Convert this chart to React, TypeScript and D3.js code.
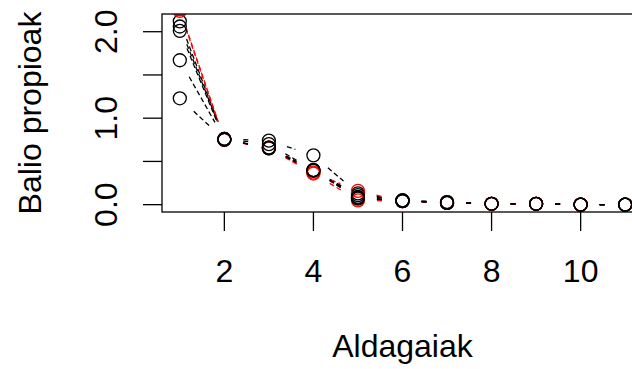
import * as d3 from "d3";

// eigenvalues per variable, one array per series (draw order kept as in R's matplot)
const variables = [1, 2, 3, 4, 5, 6, 7, 8, 9, 10, 11];
const blackA = [2.12, 0.76, 0.74, 0.57, 0.13, 0.05, 0.03, 0.01, 0.01, 0.0, 0.0];
const blackB = [2.06, 0.76, 0.7, 0.4, 0.11, 0.05, 0.02, 0.01, 0.01, 0.0, 0.0];
const redA = [2.26, 0.75, 0.66, 0.37, 0.16, 0.04, 0.03, 0.01, 0.01, 0.0, 0.0];
const redB = [2.24, 0.75, 0.65, 0.36, 0.05, 0.04, 0.02, 0.01, 0.01, 0.0, 0.0];
const blackC = [2.01, 0.75, 0.66, 0.4, 0.09, 0.04, 0.02, 0.01, 0.01, 0.0, 0.0];
const blackD = [1.67, 0.76, 0.65, 0.39, 0.08, 0.04, 0.03, 0.01, 0.01, 0.0, 0.0];
const blackE = [1.23, 0.75, 0.66, 0.4, 0.07, 0.05, 0.02, 0.01, 0.01, 0.0, 0.0];

const seriesList = [
  { values: blackA, color: "#000" },
  { values: blackB, color: "#000" },
  { values: redA, color: "#ff0000" },
  { values: redB, color: "#ff0000" },
  { values: blackC, color: "#000" },
  { values: blackD, color: "#000" },
  { values: blackE, color: "#000" },
];

const xTicks = [2, 4, 6, 8, 10];
const yTicks = [0, 0.5, 1, 1.5, 2];
const yLabelTicks = [0, 1, 2];
const yLim = [0, 2.12];

const W = 632;
const H = 369;
const left = 162;
const right = 643;
const top = 14;
const bottom = 212;
const font = "'Liberation Sans', Arial, sans-serif";

export default function App() {
  // R pads the axis range by 4%
  const xPad = (11 - 1) * 0.04;
  const yPad = (yLim[1] - yLim[0]) * 0.04;
  const x = d3.scaleLinear().domain([1 - xPad, 11 + xPad]).range([left, right]);
  const y = d3.scaleLinear().domain([yLim[0] - yPad, yLim[1] + yPad]).range([bottom, top]);
  const gap = 19; // type="b" leaves a gap around each point

  const segs = (vals: number[]) => {
    const out: string[] = [];
    for (let i = 1; i < vals.length; i++) {
      const x0 = x(variables[i - 1]), y0 = y(vals[i - 1]);
      const x1 = x(variables[i]), y1 = y(vals[i]);
      const len = Math.hypot(x1 - x0, y1 - y0);
      if (len <= 2 * gap) continue;
      const ux = (x1 - x0) / len, uy = (y1 - y0) / len;
      const p = d3.path();
      p.moveTo(x0 + ux * gap, y0 + uy * gap);
      p.lineTo(x1 - ux * gap, y1 - uy * gap);
      out.push(p.toString());
    }
    return out;
  };

  return (
    <svg
      width={W}
      height={H}
      style={{ position: "fixed", left: 0, top: 0, background: "#fff" }}
      fontFamily={font}
    >
      <defs>
        <clipPath id="plotClip">
          <rect x={left} y={top} width={right - left} height={bottom - top} />
        </clipPath>
      </defs>
      <g clipPath="url(#plotClip)">
        {seriesList.map((s, si) => (
          <g key={si}>
            {segs(s.values).map((d, i) => (
              <path key={i} d={d} stroke={s.color} strokeWidth={1.3} strokeDasharray="5,3" fill="none" />
            ))}
            {s.values.map((v, i) => (
              <circle
                key={i}
                cx={x(variables[i])}
                cy={y(v)}
                r={6.5}
                fill="none"
                stroke={s.color}
                strokeWidth={1.3}
              />
            ))}
          </g>
        ))}
      </g>
      <rect x={left} y={top} width={right - left} height={bottom - top} fill="none" stroke="#000" strokeWidth={1.3} />
      {/* x axis */}
      {xTicks.map((t) => (
        <g key={t}>
          <line x1={x(t)} x2={x(t)} y1={bottom} y2={bottom + 19} stroke="#000" strokeWidth={1.3} />
          <text x={x(t)} y={282} textAnchor="middle" fontSize={32} fill="#000">
            {t}
          </text>
        </g>
      ))}
      {/* y axis */}
      {yTicks.map((t) => (
        <line key={t} x1={left - 19} x2={left} y1={y(t)} y2={y(t)} stroke="#000" strokeWidth={1.3} />
      ))}
      {yLabelTicks.map((t) => (
        <text
          key={t}
          transform={`translate(117,${y(t)}) rotate(-90)`}
          textAnchor="middle"
          fontSize={32}
          fill="#000"
        >
          {d3.format(".1f")(t)}
        </text>
      ))}
      <text x={(left + right) / 2} y={357} textAnchor="middle" fontSize={32} fill="#000">
        Aldagaiak
      </text>
      <text
        transform={`translate(41,${(top + bottom) / 2}) rotate(-90)`}
        textAnchor="middle"
        fontSize={32}
        fill="#000"
      >
        Balio propioak
      </text>
    </svg>
  );
}
